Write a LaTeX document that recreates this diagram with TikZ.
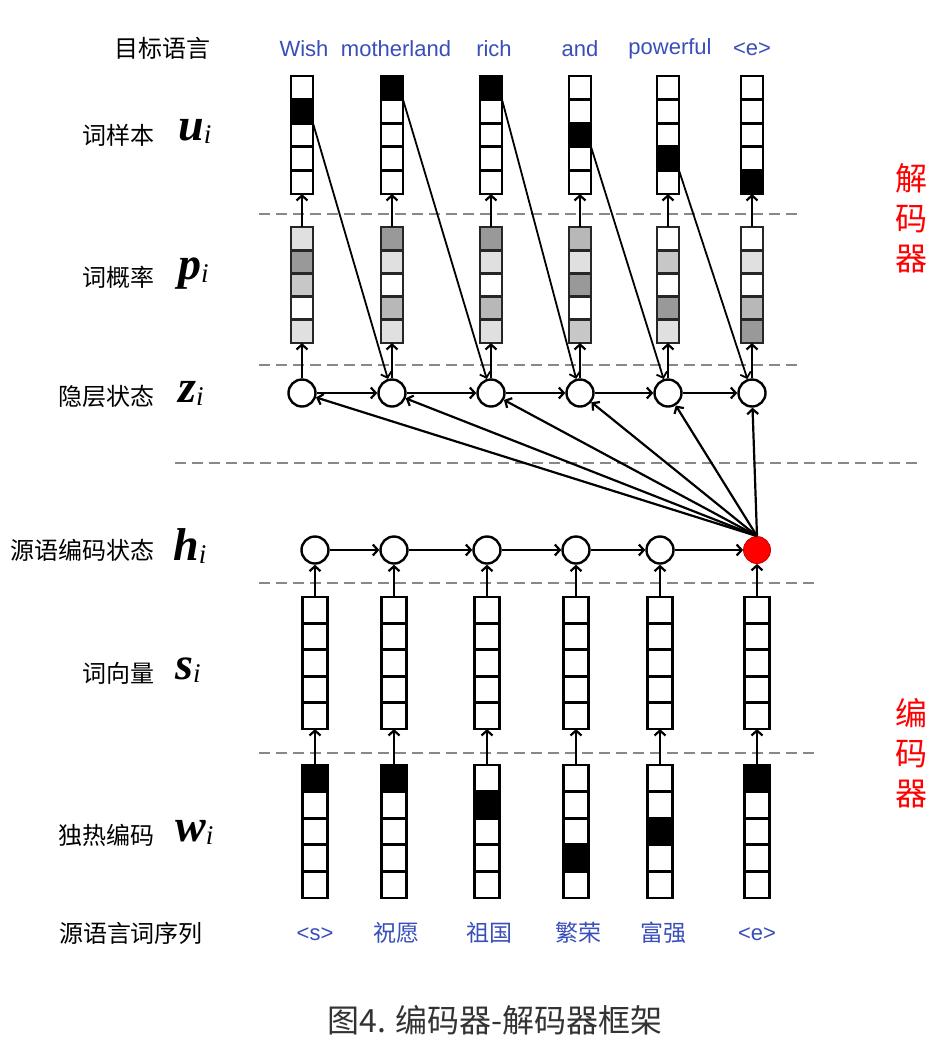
\documentclass[tikz,border=0pt]{standalone}
\usepackage{fontspec}
\setmainfont{Liberation Sans}
\newfontfamily\cjk{Noto Sans CJK SC}
\newfontfamily\tms{Liberation Serif}
\usetikzlibrary{arrows.meta}
\definecolor{lblue}{RGB}{56,78,186}
\definecolor{capgray}{RGB}{51,51,51}
\definecolor{dashgray}{RGB}{136,136,136}
\definecolor{pA}{gray}{0.88}
\definecolor{pB}{gray}{0.78}
\definecolor{pC}{gray}{0.72}
\definecolor{pD}{gray}{0.60}
\newcommand\vcolumn[7]{% name, x, top, width, cellh, border, fills
  \foreach \f [count=\k] in {#7} {
    \node[cell, draw=#6, minimum width=#4pt, minimum height=#5pt, fill=\f] (#1-\k) at (#2, {#3+(\k-0.5)*#5}) {};
  }}
\newcommand\vname[1]{{\fontsize{46}{46}\selectfont\tms\bfseries\itshape #1}\raisebox{-3pt}{\fontsize{27}{27}\selectfont\tms\itshape i}}
\begin{document}
\begin{tikzpicture}[x=1pt,y=-1pt,
  cell/.style={rectangle, inner sep=0pt, outer sep=0pt, line width=2.8pt},
  circ/.style={circle, draw, line width=2.4pt, minimum size=27pt, inner sep=0pt, fill=white},
  arr/.style={line width=2.2pt, -{Straight Barb[length=5pt,width=11pt]}},
  thinarr/.style={line width=1.8pt, -{Straight Barb[length=5pt,width=11pt]}},
  dashline/.style={dashgray, line width=2.2pt, dash pattern=on 11pt off 6pt},
  lab/.style={font=\cjk\fontsize{24}{24}\selectfont, anchor=east, inner sep=0pt},
  blu/.style={text=lblue, font=\fontsize{22}{22}\selectfont, inner sep=0pt},
  bluc/.style={text=lblue, font=\cjk\fontsize{23}{23}\selectfont, inner sep=0pt},
  redlab/.style={text=red, font=\cjk\fontsize{32}{40}\selectfont, align=center, inner sep=0pt},
  mathlab/.style={anchor=west, inner sep=0pt}
]
\useasboundingbox[fill=white] (0,0) rectangle (948,1058);

% separators
\draw[dashline] (259,214) -- (803,214);
\draw[dashline] (259,365) -- (803,365);
\draw[dashline] (175,463) -- (920,463);
\draw[dashline] (259,583) -- (815,583);
\draw[dashline] (259,753) -- (815,753);

% left labels
\node[lab] (tl) at (211,48) {目标语言};
\node[lab] (lu) at (155,135) {词样本};
\node[mathlab] (mu) at (178,131) {\vname{u}};
\node[lab] (lp) at (155,277) {词概率};
\node[mathlab] (mp) at (178,274) {\vname{p}};
\node[lab] (lz) at (155,396) {隐层状态};
\node[mathlab] (mz) at (178,393) {\vname{z}};
\node[lab] (lh) at (155,550) {源语编码状态};
\node[mathlab] (mh) at (173,546) {\vname{h}};
\node[lab] (ls) at (155,673) {词向量};
\node[mathlab] (ms) at (175,670) {\vname{s}};
\node[lab] (lw) at (155,835) {独热编码};
\node[mathlab] (mw) at (175,832) {\vname{w}};
\node[lab, anchor=center] (lseq) at (131,933) {源语言词序列};

% target words
\node[blu] (t1) at (304,49) {Wish};
\node[blu] (t2) at (396,49) {motherland};
\node[blu] (t3) at (494,49) {rich};
\node[blu] (t4) at (580,49) {and};
\node[blu] (t5) at (670,49) {powerful};
\node[blu] (t6) at (752,49) {<e>};

% source words
\node[blu] (s1w) at (315,934) {<s>};
\node[bluc] (s2w) at (396,933) {祝愿};
\node[bluc] (s3w) at (489,933) {祖国};
\node[bluc] (s4w) at (578,933) {繁荣};
\node[bluc] (s5w) at (663,933) {富强};
\node[blu] (s6w) at (757,934) {<e>};

% red side labels
\node[redlab] (dec) at (911,218) {解\\码\\器};
\node[redlab] (enc) at (911,753) {编\\码\\器};

% caption
\node[text=capgray, font=\cjk\fontsize{32}{32}\selectfont, inner sep=0pt] (cap) at (495,1020) {图4. 编码器-解码器框架};

% word sample columns u
\vcolumn{u1}{302}{76}{22}{23.6}{black}{white,black,white,white,white}
\vcolumn{u2}{392}{76}{22}{23.6}{black}{black,white,white,white,white}
\vcolumn{u3}{491}{76}{22}{23.6}{black}{black,white,white,white,white}
\vcolumn{u4}{580}{76}{22}{23.6}{black}{white,white,black,white,white}
\vcolumn{u5}{668}{76}{22}{23.6}{black}{white,white,white,black,white}
\vcolumn{u6}{752}{76}{22}{23.6}{black}{white,white,white,white,black}

% probability columns p
\vcolumn{p1}{302}{227}{22}{23.2}{black!85}{pA,pD,pB,white,pA}
\vcolumn{p2}{392}{227}{22}{23.2}{black!85}{pD,pA,white,pC,pA}
\vcolumn{p3}{491}{227}{22}{23.2}{black!85}{pD,pA,white,pC,pA}
\vcolumn{p4}{580}{227}{22}{23.2}{black!85}{pC,pA,pD,white,pB}
\vcolumn{p5}{668}{227}{22}{23.2}{black!85}{white,pB,white,pD,pA}
\vcolumn{p6}{752}{227}{22}{23.2}{black!85}{white,pA,white,pC,pD}

% hidden states z
\foreach \x [count=\i] in {302,392,491,580,668,752} {
  \node[circ] (z\i) at (\x,393) {};
}

% encoder states h
\foreach \x [count=\i] in {315,394,487,576,660} {
  \node[circ] (h\i) at (\x,550) {};
}
\node[circ, fill=red, draw=red!75!black, line width=0.8pt] (h6) at (757,550) {};

% word vectors s
\foreach \x [count=\i] in {315,394,487,576,660,757} {
  \vcolumn{s\i}{\x}{597}{25}{26.4}{black}{white,white,white,white,white}
}

% one-hot w
\vcolumn{w1}{315}{765}{25}{26.6}{black}{black,white,white,white,white}
\vcolumn{w2}{394}{765}{25}{26.6}{black}{black,white,white,white,white}
\vcolumn{w3}{487}{765}{25}{26.6}{black}{white,black,white,white,white}
\vcolumn{w4}{576}{765}{25}{26.6}{black}{white,white,white,black,white}
\vcolumn{w5}{660}{765}{25}{26.6}{black}{white,white,black,white,white}
\vcolumn{w6}{757}{765}{25}{26.6}{black}{black,white,white,white,white}

% vertical decoder arrows
\foreach \i in {1,...,6} {
  \draw[arr] (p\i-1.north) -- (u\i-5.south);
  \draw[arr] (z\i) -- (p\i-5.south);
  \draw[arr] (s\i-1.north) -- (h\i);
  \draw[arr] (w\i-1.north) -- (s\i-5.south);
}

% horizontal recurrences
\foreach \i/\j in {1/2,2/3,3/4,4/5,5/6} {
  \draw[arr] (z\i) -- (z\j);
  \draw[arr] (h\i) -- (h\j);
}

% sampled word fed to next hidden state
\foreach \i/\b/\j in {1/2/2,2/1/3,3/1/4,4/3/5,5/4/6} {
  \draw[thinarr] (u\i-\b.south east) -- (z\j);
}

% final encoder state to all decoder states
\foreach \i in {1,...,6} {
  \draw[arr] (h6.north) -- (z\i);
}
\end{tikzpicture}
\end{document}
